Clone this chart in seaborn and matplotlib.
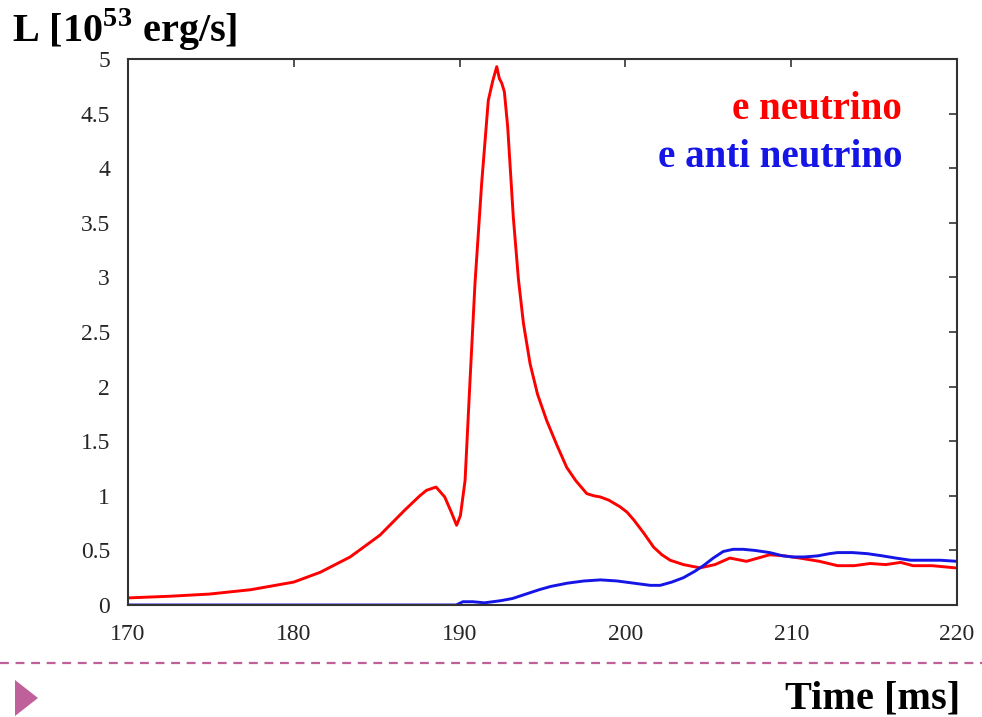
import matplotlib
matplotlib.use("Agg")
import matplotlib.pyplot as plt
import matplotlib.patches as mpatches
import matplotlib.lines as mlines
import numpy as np
import pandas as pd
import seaborn as sns

# ---- data ----
t_nue = [170.0, 172.5, 174.9, 177.4, 180.0, 181.6, 183.4, 185.2, 186.7, 187.6, 188.0, 188.58,
         189.1, 189.5, 189.82, 190.05, 190.33, 190.63, 190.93, 191.33, 191.73, 192.0, 192.24,
         192.4, 192.54, 192.7, 192.9, 193.24, 193.55, 193.85, 194.25, 194.7, 195.25, 195.85,
         196.46, 197.0, 197.67, 198.1, 198.47, 199.0, 199.67, 200.1, 200.5, 201.1, 201.7, 202.2,
         202.7, 203.5, 204.5, 205.4, 206.3, 207.3, 208.0, 208.7, 209.6, 210.5, 211.7, 212.8,
         213.8, 214.75, 215.7, 216.6, 217.35, 218.5, 219.9]
L_nue = [0.065, 0.08, 0.10, 0.14, 0.21, 0.30, 0.44, 0.64, 0.87, 1.00, 1.05, 1.08,
         0.99, 0.85, 0.73, 0.82, 1.14, 2.06, 2.95, 3.86, 4.62, 4.80, 4.93,
         4.82, 4.78, 4.70, 4.38, 3.55, 2.98, 2.58, 2.21, 1.93, 1.69, 1.47,
         1.26, 1.14, 1.02, 1.00, 0.99, 0.96, 0.90, 0.85, 0.78, 0.66, 0.53, 0.46,
         0.41, 0.37, 0.34, 0.37, 0.43, 0.40, 0.43, 0.46, 0.45, 0.43, 0.40, 0.36,
         0.36, 0.38, 0.37, 0.39, 0.36, 0.36, 0.34]

t_anue = [170.0, 180.0, 189.8, 190.2, 190.8, 191.5, 192.5, 193.2, 194.0, 194.8, 195.5, 196.5,
          197.5, 198.5, 199.5, 200.5, 201.5, 202.1, 202.8, 203.5, 204.2, 204.7, 205.3, 205.9,
          206.5, 207.1, 207.8, 208.7, 209.5, 210.1, 210.8, 211.6, 212.3, 212.8, 213.7, 214.6,
          215.5, 216.3, 217.2, 218.0, 219.0, 220.0]
L_anue = [0.0, 0.0, 0.0, 0.03, 0.03, 0.02, 0.04, 0.06, 0.10, 0.14, 0.17, 0.20,
          0.22, 0.23, 0.22, 0.20, 0.18, 0.18, 0.21, 0.25, 0.31, 0.36, 0.43, 0.49,
          0.51, 0.51, 0.50, 0.48, 0.45, 0.44, 0.44, 0.45, 0.47, 0.48, 0.48, 0.47,
          0.45, 0.43, 0.41, 0.41, 0.41, 0.40]

series_names = ["e neutrino", "e anti neutrino"]
x_ticks = [170, 180, 190, 200, 210, 220]
y_ticks = [0, 0.5, 1, 1.5, 2, 2.5, 3, 3.5, 4, 4.5, 5]
y_ticklabels = ["0", "0.5", "1", "1.5", "2", "2.5", "3", "3.5", "4", "4.5", "5"]

df = pd.concat([
    pd.DataFrame({"t": t_nue, "L": L_nue, "series": series_names[0]}),
    pd.DataFrame({"t": t_anue, "L": L_anue, "series": series_names[1]}),
], ignore_index=True)

# ---- style ----
sns.set_theme(style="white")
plt.rcParams["font.family"] = ["Liberation Serif", "DejaVu Serif"]
plt.rcParams["mathtext.fontset"] = "custom"
plt.rcParams["mathtext.rm"] = "Liberation Serif"
plt.rcParams["mathtext.bf"] = "Liberation Serif:bold"

RED = "#ff0000"
BLUE = "#1515e6"

fig = plt.figure(figsize=(9.82, 7.17), dpi=100)
ax = fig.add_axes([128 / 982, 1 - 605 / 717, (957 - 128) / 982, (605 - 59) / 717])

sns.lineplot(data=df, x="t", y="L", hue="series", palette={series_names[0]: RED, series_names[1]: BLUE},
             estimator=None, legend=False, linewidth=2.1, ax=ax)

ax.set_xlim(170, 220)
ax.set_ylim(0, 5)
ax.set_xticks(x_ticks)
ax.set_xticklabels([str(v) for v in x_ticks])
ax.set_yticks(y_ticks)
ax.set_yticklabels(y_ticklabels)
ax.set_xlabel("")
ax.set_ylabel("")
ax.tick_params(direction="in", length=6, width=1.2, color="#333333", labelsize=17,
               top=True, right=True, labeltop=False, labelright=False)
ax.tick_params(axis="y", pad=13)
ax.tick_params(axis="x", pad=14)
for s in ax.spines.values():
    s.set_color("#333333")
    s.set_linewidth(1.5)

ax.text(0.934, 0.907, series_names[0], transform=ax.transAxes, ha="right", va="center",
        color=RED, fontsize=28, fontweight="bold")
ax.text(0.934, 0.819, series_names[1], transform=ax.transAxes, ha="right", va="center",
        color=BLUE, fontsize=28, fontweight="bold")

fig.text(12 / 982, 1 - 42 / 717, r"L [10$^{\mathbf{53}}$ erg/s]", ha="left", va="baseline",
         fontsize=29, fontweight="bold", color="black")
fig.text(960 / 982, 1 - 708 / 717, "Time [ms]", ha="right", va="baseline",
         fontsize=29, fontweight="bold", color="black")

# decorative slide elements
fig.add_artist(mlines.Line2D([0, 1], [1 - 663 / 717, 1 - 663 / 717], transform=fig.transFigure,
                             color="#c0609a", linewidth=1.6, linestyle=(0, (4, 3))))
fig.add_artist(mpatches.Polygon([[15 / 982, 1 - 680 / 717], [15 / 982, 1 - 716 / 717],
                                 [38 / 982, 1 - 698 / 717]], closed=True, transform=fig.transFigure,
                                facecolor="#c0609a", edgecolor="none"))

fig.savefig("out.png", dpi=100)
